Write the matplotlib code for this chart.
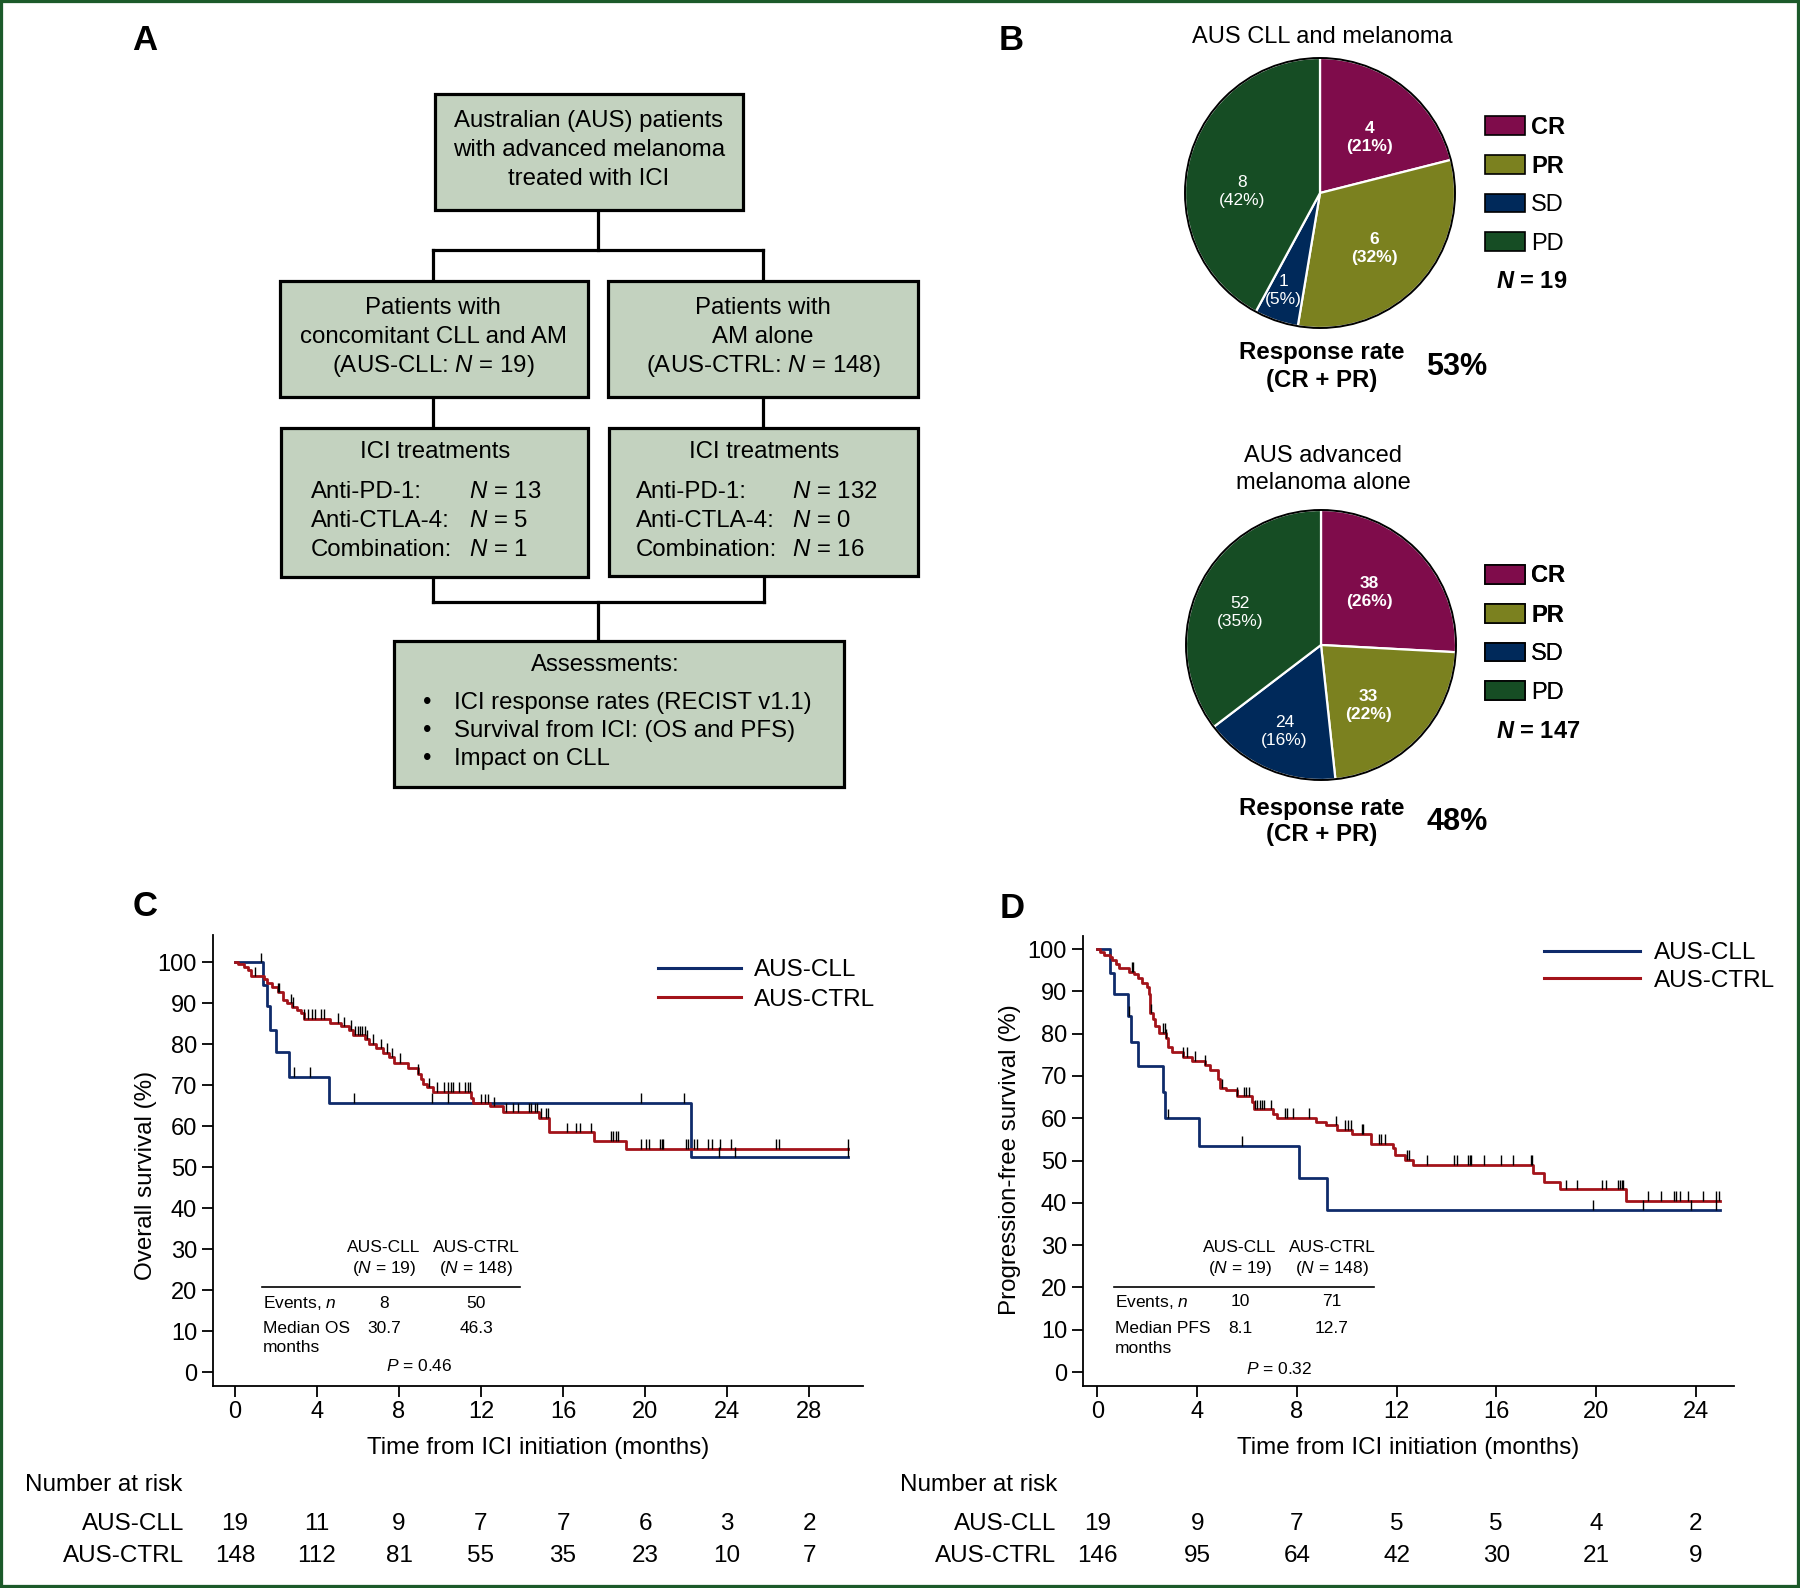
import numpy as np
import matplotlib
matplotlib.use('Agg')
import matplotlib.pyplot as plt
from matplotlib.patches import Rectangle, Circle, Patch
from matplotlib.lines import Line2D
import matplotlib.transforms as mtransforms

plt.rcParams['font.family'] = ['Liberation Sans', 'DejaVu Sans']
plt.rcParams['mathtext.fontset'] = 'custom'
plt.rcParams['mathtext.rm'] = 'Liberation Sans'
plt.rcParams['mathtext.it'] = 'Liberation Sans:italic'
plt.rcParams['mathtext.bf'] = 'Liberation Sans:bold'
try:
    plt.rcParams['mathtext.bfit'] = 'Liberation Sans:italic:bold'
except KeyError:
    pass

# ---------------- DATA ----------------
resp_cats = ['CR', 'PR', 'SD', 'PD']
resp_cll = [4, 6, 1, 8]
resp_ctrl = [38, 33, 24, 52]

# Overall survival (months, %)
os_cll_t = [0, 1.37, 1.57, 1.72, 1.98, 2.65, 4.60, 22.25]
os_cll_s = [100, 94.6, 89.3, 83.6, 78.2, 72.1, 65.8, 52.6]
os_cll_end = 29.9
os_cll_cens = [1.28, 2.88, 3.66, 5.8, 9.6, 10.4, 19.8, 21.9, 23.6, 24.4, 29.9]

os_ctrl_t = [0, 0.17, 0.42, 0.63, 0.80, 1.40, 1.55, 1.79, 2.10, 2.32, 2.53, 2.80, 3.02,
             3.20, 3.37, 4.63, 5.16, 5.55, 5.75, 6.35, 6.55, 6.88, 7.20, 7.50, 7.77,
             8.45, 8.95, 9.05, 9.16, 9.35, 9.65, 11.50, 11.60, 12.42, 13.05, 14.84,
             15.33, 17.52, 19.09]
os_ctrl_s = [100, 99.6, 98.9, 98.1, 96.6, 95.9, 95.0, 94.0, 92.8, 90.8, 90.0, 89.2, 88.4,
             87.6, 86.3, 85.3, 84.5, 83.6, 82.3, 81.2, 80.2, 79.1, 78.0, 76.8, 75.5,
             74.3, 72.8, 71.6, 70.4, 69.5, 68.4, 67.0, 65.7, 64.9, 63.5, 62.1,
             58.6, 56.5, 54.5]
os_ctrl_end = 29.9
os_ctrl_cens = [0.99, 2.1, 2.17, 2.74, 2.84, 3.37, 3.58, 3.75, 3.9, 4.21, 4.32, 5.05, 5.33,
                5.68, 5.85, 6.0, 6.1, 6.21, 6.32, 6.42, 6.74, 7.12, 7.43, 7.68, 8.06, 8.95,
                9.47, 9.83, 10.21, 10.38, 10.53, 10.63, 10.95, 11.2, 11.37, 11.47, 12.0,
                12.21, 12.32, 12.63, 13.22, 13.58, 13.79, 14.32, 14.42, 14.63, 14.74,
                14.95, 15.16, 15.26, 16.17, 16.63, 16.84, 17.37, 18.32, 18.42, 18.57,
                18.69, 19.79, 20.04, 20.21, 20.74, 20.84, 20.9, 22.0, 22.1, 22.38, 22.53,
                23.05, 23.26, 23.68, 24.21, 26.38, 26.53, 29.9]

# Progression-free survival (months, %)
pfs_cll_t = [0, 0.50, 0.67, 1.24, 1.33, 1.61, 2.62, 2.70, 4.08, 8.10, 9.20]
pfs_cll_s = [100, 94.4, 89.3, 84.2, 78.0, 72.3, 66.2, 60.0, 53.4, 45.8, 38.3]
pfs_cll_end = 24.99
pfs_cll_cens = [1.25, 2.85, 5.8, 19.9, 21.9, 23.8, 24.8]

pfs_ctrl_t = [0, 0.11, 0.25, 0.50, 0.60, 0.76, 0.88, 1.25, 1.45, 1.62, 1.80, 1.98, 2.06,
              2.10, 2.22, 2.32, 2.45, 2.74, 2.85, 3.00, 3.45, 3.80, 4.30, 4.50, 4.83,
              4.92, 5.15, 5.59, 6.21, 6.30, 7.04, 7.21, 8.75, 9.16, 9.60, 10.22, 10.98,
              11.85, 11.94, 12.34, 12.66, 17.47, 17.92, 18.57, 21.22]
pfs_ctrl_s = [100, 99.3, 98.7, 98.1, 97.4, 96.4, 95.5, 94.7, 94.1, 93.1, 91.9, 91.1, 89.4,
              84.8, 83.5, 81.8, 80.2, 78.9, 76.9, 75.7, 74.6, 73.6, 72.6, 71.3, 69.3,
              67.1, 66.8, 65.2, 63.8, 62.1, 61.0, 60.1, 59.1, 58.3, 57.3, 56.3, 53.9,
              52.9, 51.3, 50.2, 49.0, 47.0, 45.0, 43.2, 40.5]
pfs_ctrl_end = 24.99
pfs_ctrl_cens = [1.38, 1.43, 2.14, 2.63, 2.71, 2.76, 3.45, 3.59, 3.91, 4.30, 5.0, 5.59, 5.89,
                 5.98, 6.1, 6.33, 6.42, 6.51, 6.6, 6.68, 6.95, 7.53, 7.62, 7.83, 8.49, 9.57,
                 9.92, 10.04, 10.17, 10.61, 10.66, 11.28, 11.37, 11.55, 12.43, 12.52, 13.23,
                 14.32, 14.43, 14.87, 14.94, 15.0, 15.49, 16.2, 16.68, 17.38, 17.44, 18.8,
                 19.24, 20.25, 20.39, 20.88, 20.95, 21.04, 21.1, 22.07, 22.63, 23.13, 23.22,
                 23.36, 23.71, 24.28, 24.81, 24.93]

os_ticks = [0, 4, 8, 12, 16, 20, 24, 28]
pfs_ticks = [0, 4, 8, 12, 16, 20, 24]
risk_os_cll = [19, 11, 9, 7, 7, 6, 3, 2]
risk_os_ctrl = [148, 112, 81, 55, 35, 23, 10, 7]
risk_pfs_cll = [19, 9, 7, 5, 5, 4, 2]
risk_pfs_ctrl = [146, 95, 64, 42, 30, 21, 9]

os_events = [8, 50]
os_median = [30.7, 46.3]
os_p = 0.46
pfs_events = [10, 71]
pfs_median = [8.1, 12.7]
pfs_p = 0.32
group_n = [19, 148]
group_names = ['AUS-CLL', 'AUS-CTRL']

# ---------------- STYLE ----------------
W, H = 1800, 1588
C_BLUE = '#0F2B6B'
C_RED = '#A3131A'
PIE_COLORS = ['#7F0C4B', '#7B811F', '#00295A', '#164D24']
BOX_FC = '#C3D2BF'
BORDER = '#1C5A2A'

fig = plt.figure(figsize=(18, 15.88), dpi=100)
fig.patch.set_facecolor('white')

# overlay axes in pixel coordinates (y downward)
ov = fig.add_axes([0, 0, 1, 1])
ov.set_xlim(0, W)
ov.set_ylim(H, 0)
ov.axis('off')
ov.set_zorder(0)

# ---------------- PANEL A: flowchart ----------------
boxes = [(435, 94, 308, 116), (280, 281, 308, 116), (608, 281, 310, 116),
         (281, 428, 307, 149), (609, 428, 309, 148), (394, 641, 450, 146)]
for (x0, y0, w, h) in boxes:
    ov.add_patch(Rectangle((x0, y0), w, h, fc=BOX_FC, ec='black', lw=2.3, zorder=2))

conn = [((598, 210), (598, 250)), ((433, 250), (763, 250)), ((433, 250), (433, 281)),
        ((763, 250), (763, 281)), ((433, 397), (433, 428)), ((763, 397), (763, 428)),
        ((433, 577), (433, 602)), ((764, 576), (764, 602)), ((433, 602), (764, 602)),
        ((598, 602), (598, 641))]
for (a, b) in conn:
    ov.add_line(Line2D([a[0], b[0]], [a[1], b[1]], color='black', lw=2.3,
                       solid_capstyle='projecting', zorder=1))

FS_BOX = 17.3
def otext(x, y, s, **kw):
    kw.setdefault('fontsize', FS_BOX)
    kw.setdefault('ha', 'center')
    kw.setdefault('va', 'center')
    ov.text(x, y, s, zorder=5, **kw)

for i, s in enumerate(['Australian (AUS) patients', 'with advanced melanoma',
                       'treated with ICI']):
    otext(589, 121 + 29 * i, s)
for i, s in enumerate(['Patients with', 'concomitant CLL and AM',
                       '(AUS-CLL: $N$ = 19)']):
    otext(433, 308 + 29 * i, s)
for i, s in enumerate(['Patients with', 'AM alone', '(AUS-CTRL: $N$ = 148)']):
    otext(763, 308 + 29 * i, s)

otext(435, 452, 'ICI treatments')
otext(764, 452, 'ICI treatments')
rows_l = [('Anti-PD-1:', '$N$ = 13'), ('Anti-CTLA-4:', '$N$ = 5'), ('Combination:', '$N$ = 1')]
rows_r = [('Anti-PD-1:', '$N$ = 132'), ('Anti-CTLA-4:', '$N$ = 0'), ('Combination:', '$N$ = 16')]
for i, (a, b) in enumerate(rows_l):
    otext(311, 492 + 29 * i, a, ha='left')
    otext(469, 492 + 29 * i, b, ha='left')
for i, (a, b) in enumerate(rows_r):
    otext(636, 492 + 29 * i, a, ha='left')
    otext(792, 492 + 29 * i, b, ha='left')

otext(605, 665, 'Assessments:')
for i, s in enumerate(['ICI response rates (RECIST v1.1)', 'Survival from ICI: (OS and PFS)',
                       'Impact on CLL']):
    otext(427, 703 + 28 * i, '\u2022', ha='center')
    otext(454, 703 + 28 * i, s, ha='left')

# panel letters
for x, y, s in [(145, 40, 'A'), (1011, 40, 'B'), (145, 906, 'C'), (1012, 908, 'D')]:
    ov.text(x, y, s, fontsize=25, fontweight='bold', ha='center', va='center')

# ---------------- PANEL B: pies ----------------
def draw_pie(cx, cy, r, vals, title_lines, title_y, label_pos, leg_top, n_y, rr_y):
    ax = fig.add_axes([(cx - r) / W, 1 - (cy + r) / H, 2 * r / W, 2 * r / H])
    ax.pie(vals, colors=PIE_COLORS, startangle=90, counterclock=False, radius=1,
           wedgeprops=dict(edgecolor='white', linewidth=1.6))
    ax.add_patch(Circle((0, 0), 1, fill=False, ec='black', lw=1.4, zorder=5))
    ax.set_xlim(-1.02, 1.02)
    ax.set_ylim(-1.02, 1.02)
    ax.set_aspect('auto')
    ax.set_position([(cx - r * 1.02) / W, 1 - (cy + r * 1.02) / H, 2.04 * r / W, 2.04 * r / H])
    ax.axis('off')
    tot = sum(vals)
    for i, v in enumerate(vals):
        pct = int(round(100 * v / tot))
        ax.text(label_pos[i][0], label_pos[i][1], f'{v}\n({pct}%)', color='white',
                fontsize=12.5, fontweight='bold' if i < 2 else 'normal',
                ha='center', va='center', linespacing=1.25, zorder=6)
    for j, s in enumerate(title_lines):
        ov.text(cx + 2, title_y + 27 * j, s, fontsize=17, ha='center', va='center')
    handles = [Patch(fc=c, ec='black', lw=1.2) for c in PIE_COLORS]
    leg = ov.legend(handles, resp_cats, loc='upper left', bbox_to_anchor=(1485, leg_top),
                    bbox_transform=ov.transData, frameon=False, fontsize=17,
                    handlelength=1.7, handleheight=0.85, handletextpad=0.25,
                    labelspacing=0.68, borderpad=0, borderaxespad=0)
    for i, t in enumerate(leg.get_texts()):
        if i < 2:
            t.set_fontweight('bold')
    ov.add_artist(leg)
    ov.text(1496, n_y, r'$\mathbfit{N}$ = ' + str(tot), fontsize=17, fontweight='bold',
            ha='left', va='center')
    rr = int(round(100 * (vals[0] + vals[1]) / tot))
    ov.text(1322, rr_y - 14, 'Response rate', fontsize=17.3, fontweight='bold',
            ha='center', va='center')
    ov.text(1322, rr_y + 13, '(CR + PR)', fontsize=17.3, fontweight='bold',
            ha='center', va='center')
    ov.text(1457, rr_y, f'{rr}%', fontsize=22, fontweight='bold', ha='center', va='center')
    return ax

draw_pie(1320, 193, 135, resp_cll, ['AUS CLL and melanoma'], 37,
         [(0.37, 0.41), (0.40, -0.41), (-0.27, -0.72), (-0.58, 0.01)], 115.5, 282, 367)
draw_pie(1321, 645, 135, resp_ctrl, ['AUS advanced', 'melanoma alone'], 456,
         [(0.36, 0.39), (0.35, -0.45), (-0.27, -0.64), (-0.60, 0.24)], 564.5, 732, 822)

# ---------------- PANELS C & D: Kaplan-Meier ----------------
def km(ax, t, s, tend, cens, color):
    t = np.asarray(t, float)
    s = np.asarray(s, float)
    tt = np.append(t, tend)
    ss = np.append(s, s[-1])
    ax.step(tt, ss, where='post', color=color, lw=2.0, zorder=3)
    cens = np.asarray(cens, float)
    idx = np.searchsorted(t, cens, side='right') - 1
    sc = s[idx]
    ax.vlines(cens, sc, sc + 2.3, color='black', lw=1.0, zorder=4)

def style_km(ax, xlim, ylim, xticks):
    ax.set_xlim(*xlim)
    ax.set_ylim(*ylim)
    ax.set_xticks(xticks)
    ax.set_yticks(np.arange(0, 101, 10))
    for sp in ['top', 'right']:
        ax.spines[sp].set_visible(False)
    for sp in ['left', 'bottom']:
        ax.spines[sp].set_linewidth(1.3)
    ax.tick_params(direction='out', length=8, width=1.3, labelsize=17)
    ax.tick_params(axis='x', pad=2.5)
    ax.tick_params(axis='y', pad=3.5)
    ax.set_facecolor('none')

def inset_table(ax, xs, ys, line_x, events, medians, pval, med_label):
    fs = 12.5
    for k in range(2):
        ax.text(xs[k], ys[0], group_names[k], fontsize=fs, ha='center', va='center')
        ax.text(xs[k], ys[1], f'($N$ = {group_n[k]})', fontsize=fs, ha='center', va='center')
        ax.text(xs[k], ys[3], str(events[k]), fontsize=fs, ha='center', va='center')
        ax.text(xs[k], ys[4], f'{medians[k]}', fontsize=fs, ha='center', va='center')
    ax.plot(line_x, [ys[2], ys[2]], color='black', lw=1.2)
    ax.text(line_x[0] + 0.05, ys[3], 'Events, $n$', fontsize=fs, ha='left', va='center')
    ax.text(line_x[0] + 0.05, ys[4], med_label, fontsize=fs, ha='left', va='center')
    ax.text(line_x[0] + 0.05, ys[5], 'months', fontsize=fs, ha='left', va='center')
    ax.text(xs[2], ys[6], f'$P$ = {pval}', fontsize=fs, ha='center', va='center')

def risk_table(ax, ticks, r1, r2, label_x, title_x):
    fs = 17.5
    tr = mtransforms.blended_transform_factory(ax.transData, ov.transData)
    for k, tk in enumerate(ticks):
        ax.text(tk, 1524, str(r1[k]), transform=tr, fontsize=fs, ha='center', va='center',
                clip_on=False)
        ax.text(tk, 1556, str(r2[k]), transform=tr, fontsize=fs, ha='center', va='center',
                clip_on=False)
    ov.text(label_x, 1524, group_names[0], fontsize=fs, ha='right', va='center')
    ov.text(label_x, 1556, group_names[1], fontsize=fs, ha='right', va='center')
    ov.text(title_x, 1485, 'Number at risk', fontsize=fs, ha='left', va='center')

def km_legend(ax, x, y, hl, hp, ls):
    hs = [Line2D([], [], color=C_BLUE, lw=2.2), Line2D([], [], color=C_RED, lw=2.2)]
    ax.legend(hs, group_names, loc='upper left', bbox_to_anchor=(x, y), frameon=False,
              fontsize=17.5, handlelength=hl, handletextpad=hp, labelspacing=ls,
              borderpad=0, borderaxespad=0)

# Panel C
axc = fig.add_axes([213 / W, 1 - 1386 / H, 650 / W, 451 / H])
km(axc, os_cll_t, os_cll_s, os_cll_end, os_cll_cens, C_BLUE)
km(axc, os_ctrl_t, os_ctrl_s, os_ctrl_end, os_ctrl_cens, C_RED)
style_km(axc, (-1.07, 30.63), (-3.4, 106.7), os_ticks)
axc.text(-0.103, 0.467, 'Overall survival (%)', rotation=90, fontsize=17.4, ha='center',
         va='center', transform=axc.transAxes)
axc.text(0.5, -0.137, 'Time from ICI initiation (months)', fontsize=17.4, ha='center',
         va='center', transform=axc.transAxes)
km_legend(axc, 0.685, 0.946, 3.4, 0.55, 0.3)
inset_table(axc, [7.27, 11.76, 9.0], [30.5, 25.4, 20.7, 16.8, 10.7, 5.9, 1.5], [1.3, 13.9],
            os_events, os_median, os_p, 'Median OS')
risk_table(axc, os_ticks, risk_os_cll, risk_os_ctrl, 184, 25)

# Panel D
axd = fig.add_axes([1083 / W, 1 - 1386 / H, 650.5 / W, 450 / H])
km(axd, pfs_cll_t, pfs_cll_s, pfs_cll_end, pfs_cll_cens, C_BLUE)
km(axd, pfs_ctrl_t, pfs_ctrl_s, pfs_ctrl_end, pfs_ctrl_cens, C_RED)
style_km(axd, (-0.58, 25.52), (-3.3, 103.1), pfs_ticks)
axd.text(-0.112, 0.503, 'Progression-free survival (%)', rotation=90, fontsize=17.4,
         ha='center', va='center', transform=axd.transAxes)
axd.text(0.5005, -0.137, 'Time from ICI initiation (months)', fontsize=17.4, ha='center',
         va='center', transform=axd.transAxes)
km_legend(axd, 0.709, 0.986, 3.95, 0.58, 0.22)
inset_table(axd, [5.72, 9.41, 7.28], [29.4, 24.6, 20.1, 16.6, 10.2, 5.45, 0.7], [0.66, 11.1],
            pfs_events, pfs_median, pfs_p, 'Median PFS')
risk_table(axd, pfs_ticks, risk_pfs_cll, risk_pfs_ctrl, 1056, 900)

# figure border
fig.add_artist(Rectangle((0, 0), 1, 1, transform=fig.transFigure, fill=False, ec=BORDER,
                         lw=4.5, zorder=20))

fig.savefig('out.png', dpi=100, facecolor='white')
